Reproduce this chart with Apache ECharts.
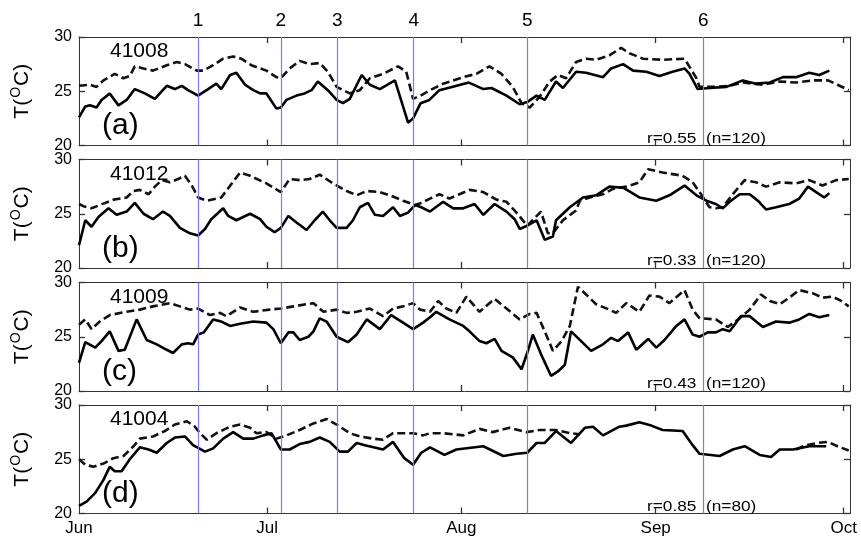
<!DOCTYPE html>
<html>
<head>
<meta charset="utf-8">
<script src="https://cdn.jsdelivr.net/npm/echarts@6/dist/echarts.min.js"></script>
<style>html,body{margin:0;padding:0;background:#fff}#c{width:861px;height:545px}</style>
</head>
<body>
<div id="c"></div>
<script>
// ---- data (x = days since 1 June) ----
const monthLabels = ['Jun', 'Jul', 'Aug', 'Sep', 'Oct'];
const monthDays = [0, 30, 61, 92, 122];
const yTicks = [20, 25, 30];
const eventDays = [19.0, 32.2, 41.2, 53.4, 71.5, 99.6];
const eventLabels = ['1', '2', '3', '4', '5', '6'];
const stations = ['41008', '41012', '41009', '41004'];
const panelLetters = ['(a)', '(b)', '(c)', '(d)'];
const corrTexts = ['r=0.55  (n=120)', 'r=0.33  (n=120)', 'r=0.43  (n=120)', 'r=0.85  (n=80)'];

const s41008Solid = [[0,22.6],[1,23.6],[1.75,23.7],[2.8,23.5],[3.6,24.2],[4.9,24.8],[6.3,23.7],[7.6,24.2],[8.9,25.2],[10.5,24.8],[12.1,24.3],[14.0,25.5],[15.3,25.2],[16.4,25.5],[17.4,25.1],[19.0,24.6],[20.6,25.2],[21.9,25.7],[22.7,25.2],[24.1,26.5],[25.1,26.7],[26.5,25.6],[27.8,25.1],[28.9,24.8],[29.9,24.8],[31.5,23.4],[32.2,23.5],[33.1,24.2],[34.7,24.6],[36.0,24.8],[37.1,25.1],[38.1,25.9],[39.7,25.1],[41.1,24.2],[42.1,23.9],[43.2,24.3],[45.1,26.5],[46.4,25.6],[48.0,25.2],[50.4,26.0],[52.5,22.1],[53.3,22.5],[54.5,23.9],[55.9,24.2],[57.5,25.1],[59.5,25.4],[62.2,25.8],[64.5,25.2],[65.8,25.3],[68.2,24.6],[70.3,23.8],[71.5,24.0],[73.0,24.6],[74.3,24.2],[76.1,25.9],[77.2,25.3],[79.3,26.8],[80.9,26.7],[83.6,26.3],[84.9,27.1],[86.8,27.5],[88.4,26.9],[90.5,26.8],[92.6,26.4],[94.7,26.8],[96.6,27.1],[97.4,26.6],[98.7,25.2],[100.6,25.3],[103.3,25.4],[105.9,26.0],[108.0,25.7],[110.2,25.8],[112.3,26.3],[114.4,26.3],[116.5,26.7],[118.1,26.5],[119.7,26.9]];
const s41008Dashed = [[0,25.5],[1.75,25.6],[2.8,25.4],[3.9,26.0],[5.7,26.6],[7.1,26.2],[8.1,26.4],[8.9,27.3],[10.3,27.1],[11.8,26.9],[14.0,27.4],[15.6,27.7],[16.9,27.5],[18.8,26.9],[19.8,26.9],[21.4,27.4],[23.0,28.0],[24.6,28.2],[25.9,28.0],[27.5,27.4],[29.9,26.9],[31.5,26.3],[32.2,26.2],[33.6,27.1],[35.2,27.8],[36.8,27.5],[38.4,27.6],[39.7,26.8],[41.1,25.4],[43.2,24.8],[44.8,25.1],[46.4,26.2],[48.5,26.6],[50.9,27.3],[52.2,26.8],[53.3,24.3],[54.5,24.6],[56.0,25.1],[58.1,25.7],[61.3,26.3],[63.4,26.6],[65.5,27.3],[67.4,26.6],[69.2,25.4],[70.6,23.9],[71.9,23.5],[73.5,24.5],[75.1,25.9],[76.4,26.5],[77.7,26.2],[79.3,27.7],[80.9,28.0],[82.5,27.9],[84.6,28.3],[86.5,29.0],[87.8,28.5],[90.0,28.0],[93.1,27.9],[96.6,28.0],[98.5,26.2],[99.0,25.4],[101.1,25.4],[103.8,25.5],[105.9,25.8],[109.1,25.6],[111.8,25.9],[114.4,25.8],[117.1,26.0],[119.5,26.0],[121.0,25.6],[122.8,25.1]];

const s41012Solid = [[0,22.1],[1.0,24.4],[2.0,23.8],[3.1,24.7],[4.7,25.5],[6.0,24.9],[7.6,25.2],[8.9,26.0],[10.3,25.0],[11.8,24.5],[13.4,25.2],[14.5,24.8],[16.1,23.7],[17.7,23.2],[19.0,23.0],[20.1,23.6],[21.1,24.5],[23.0,25.5],[23.8,24.8],[25.1,24.4],[27.3,25.0],[28.9,24.5],[29.9,23.8],[31.2,23.3],[32.2,23.7],[33.4,24.8],[34.7,24.2],[36.3,23.5],[37.6,24.4],[38.9,25.2],[40.0,24.4],[41.1,23.7],[42.7,23.7],[43.7,24.4],[44.8,25.6],[46.1,26.0],[47.2,24.9],[48.5,24.8],[50.1,25.6],[51.2,24.8],[52.5,25.1],[53.6,25.8],[54.6,25.6],[56.0,25.2],[58.1,26.1],[59.7,25.5],[61.3,25.5],[63.1,25.9],[64.5,24.9],[66.3,25.9],[68.2,25.2],[69.5,24.5],[70.3,23.6],[71.5,23.9],[73.0,24.4],[74.3,22.6],[75.6,22.9],[76.1,24.4],[78.3,25.6],[80.4,26.5],[82.5,26.7],[84.6,27.5],[86.8,27.4],[89.4,26.5],[92.1,26.2],[94.2,26.7],[96.6,27.6],[98.5,26.7],[100.1,26.2],[101.6,25.9],[102.7,25.5],[103.8,26.1],[105.4,26.8],[107.0,26.8],[108.3,26.2],[109.6,25.4],[111.2,25.6],[113.3,25.9],[114.9,26.4],[116.3,27.5],[117.6,27.0],[118.9,26.5],[119.7,26.9]];
const s41012Dashed = [[0,25.9],[0.7,25.7],[2.0,25.5],[3.3,25.8],[5.5,26.3],[7.6,26.5],[8.7,27.1],[9.7,27.2],[11.1,26.8],[12.1,27.5],[13.2,28.1],[14.5,27.9],[15.8,28.2],[16.9,28.5],[18.0,27.6],[19.0,26.5],[20.4,26.2],[22.7,26.5],[25.7,28.8],[27.3,28.5],[29.9,27.8],[32.2,27.0],[33.6,28.2],[35.2,28.1],[36.8,28.2],[38.4,28.6],[40.5,27.8],[42.7,27.1],[44.3,26.7],[45.9,27.1],[48.0,27.0],[49.6,26.7],[51.7,26.2],[53.6,25.8],[54.6,26.0],[56.0,26.4],[57.5,26.8],[59.1,26.4],[60.7,26.8],[62.3,27.2],[64.5,27.0],[66.6,26.3],[68.2,26.1],[69.8,25.1],[71.5,23.9],[73.7,25.2],[74.8,23.2],[75.6,23.2],[77.2,24.4],[79.3,25.3],[79.9,26.2],[81.5,26.5],[83.6,26.8],[85.2,27.3],[87.3,27.5],[89.4,27.9],[90.8,29.1],[93.1,28.8],[96.3,28.5],[97.9,27.9],[99.0,27.0],[100.6,25.6],[101.6,25.5],[102.7,25.6],[104.3,26.8],[106.2,28.1],[108.0,27.9],[109.6,27.5],[111.8,27.9],[114.4,27.8],[116.5,28.1],[118.6,27.6],[120.8,28.1],[122.8,28.2]];

const s41009Solid = [[0,22.6],[1.0,24.5],[2.6,24.0],[3.6,24.6],[4.9,25.5],[6.3,23.7],[7.3,23.8],[9.2,26.6],[10.8,24.7],[12.4,24.3],[14.0,23.8],[15.0,23.5],[16.4,24.3],[17.4,24.4],[18.2,24.3],[19.0,25.2],[19.9,25.4],[21.4,26.6],[22.7,26.4],[24.1,26.0],[25.7,26.2],[27.8,26.4],[29.9,26.3],[31.0,25.7],[32.2,24.4],[33.4,25.4],[34.2,25.4],[35.2,24.7],[36.6,25.0],[37.4,25.5],[38.4,26.7],[39.5,26.4],[41.1,25.0],[42.9,24.5],[44.3,25.2],[45.9,26.6],[48.0,25.7],[49.8,27.0],[51.7,26.3],[53.3,25.7],[54.9,26.3],[56.0,26.8],[57.0,27.3],[59.1,26.6],[61.3,26.0],[62.3,25.5],[63.9,24.6],[65.0,24.4],[66.3,24.8],[67.4,23.7],[69.2,23.1],[70.6,22.0],[71.5,23.5],[72.4,25.2],[73.7,23.4],[75.3,21.4],[76.4,21.8],[77.5,22.4],[78.5,25.5],[80.1,24.6],[81.7,23.7],[83.6,24.3],[84.9,24.9],[86.0,24.6],[87.6,25.4],[88.9,23.8],[90.8,24.8],[92.1,24.0],[93.4,24.7],[95.3,26.0],[96.6,26.6],[97.9,25.2],[99.0,25.0],[100.3,25.4],[101.6,25.4],[102.7,25.7],[103.8,25.5],[105.6,26.9],[107.0,26.9],[109.1,25.9],[111.2,26.4],[113.3,26.3],[114.9,26.6],[116.5,27.1],[118.1,26.8],[119.7,27.0]];
const s41009Dashed = [[0,26.1],[1.0,26.6],[2.0,25.7],[3.3,26.4],[4.9,27.0],[7.6,27.3],[9.7,27.5],[11.8,27.8],[14.5,28.1],[16.1,27.8],[17.7,27.5],[19.0,27.6],[20.9,27.0],[22.5,27.2],[23.5,26.9],[25.7,27.7],[27.8,27.3],[30.4,27.5],[32.2,27.6],[34.2,27.8],[37.4,28.1],[39.0,27.3],[41.1,27.5],[42.7,27.2],[44.3,27.3],[46.4,27.6],[48.5,26.9],[50.1,27.6],[51.7,27.8],[53.3,28.1],[54.4,27.5],[56.0,27.3],[57.3,28.3],[58.6,27.6],[60.2,27.2],[61.8,28.7],[63.9,27.3],[66.3,28.5],[68.2,27.6],[70.3,26.6],[71.9,27.1],[73.0,27.2],[74.3,25.5],[75.6,23.7],[77.0,24.6],[78.3,26.0],[79.6,29.6],[80.9,28.9],[82.5,28.0],[84.6,27.5],[85.7,27.2],[87.3,28.1],[89.4,27.3],[91.0,28.8],[92.6,28.7],[94.2,28.1],[96.6,29.3],[97.9,27.5],[99.0,26.7],[101.6,26.6],[103.5,25.9],[105.4,26.7],[107.0,27.5],[108.8,28.9],[110.2,28.3],[111.8,28.0],[113.3,28.6],[114.9,29.3],[117.1,29.0],[118.6,28.6],[120.2,28.7],[121.6,28.3],[122.8,27.8]];

const s41004Solid = [[0,20.7],[1.2,21.1],[2.6,21.9],[3.9,23.1],[4.9,24.3],[5.7,23.9],[6.8,23.9],[8.1,25.0],[9.7,26.1],[11.1,25.9],[12.4,25.6],[14.0,26.5],[15.3,27.0],[16.9,27.1],[18.2,26.3],[20.1,25.7],[21.4,26.0],[23.0,26.9],[24.6,27.5],[26.2,26.9],[27.8,26.9],[29.4,27.2],[30.7,27.4],[32.2,25.9],[33.6,25.9],[35.2,26.4],[36.8,26.6],[38.4,27.0],[40.0,26.6],[41.6,25.7],[42.9,25.7],[44.3,26.5],[45.6,26.3],[48.5,25.9],[50.1,26.6],[51.9,25.1],[53.3,24.5],[54.6,25.6],[56.0,26.1],[58.3,25.4],[60.2,25.9],[64.5,26.2],[67.7,25.3],[69.8,25.5],[71.5,25.6],[73.0,26.5],[74.3,26.5],[76.1,27.6],[78.5,26.5],[80.7,27.9],[82.0,28.0],[83.6,27.2],[86.2,28.0],[87.3,28.1],[89.4,28.4],[91.3,28.1],[93.1,27.7],[96.3,27.6],[97.9,26.3],[99.0,25.5],[102.2,25.3],[104.3,25.9],[106.2,26.2],[108.6,25.4],[110.4,25.2],[111.8,25.9],[113.9,25.9],[116.5,26.2],[119.2,26.2]];
const s41004Dashed = [[0,25.0],[1.0,24.5],[2.3,24.3],[3.9,24.6],[5.5,25.1],[7.1,25.3],[8.7,26.2],[9.7,26.9],[11.8,27.1],[13.7,27.6],[15.3,28.2],[17.2,28.5],[18.5,28.0],[19.3,27.4],[20.4,26.8],[21.9,27.4],[24.1,28.0],[25.7,28.2],[27.3,27.9],[28.3,27.4],[29.9,27.5],[31.5,26.9],[33.1,27.2],[35.2,27.7],[37.4,28.3],[39.5,28.7],[41.1,28.2],[43.2,27.4],[44.8,27.1],[46.9,26.9],[48.5,26.8],[50.1,27.4],[51.7,27.4],[53.3,27.4],[54.9,27.2],[56.0,27.4],[58.1,27.4],[61.3,27.2],[63.9,27.8],[66.0,27.5],[68.7,27.9],[71.4,27.5],[73.5,27.7],[76.1,27.7],[78.3,27.4],[79.9,27.3],[80.5,'-'],[114.4,25.9],[116.0,26.3],[117.8,26.5],[119.5,26.6],[121.0,26.2],[122.8,25.8]];

const solidSeries = [s41008Solid, s41012Solid, s41009Solid, s41004Solid];
const dashedSeries = [s41008Dashed, s41012Dashed, s41009Dashed, s41004Dashed];

// ---- layout ----
const FONT = 'Liberation Sans, Arial, Helvetica, sans-serif';
const gridLeft = 79, gridWidth = 772, gridHeight = 108.5;
const gridTops = [37, 159.5, 282.5, 405];
const boxColor = '#333';
const eventColor = '#7a7af2';

function tick(custom) {
  const t = { show: true, inside: true, length: 6, lineStyle: { color: boxColor, width: 1.3 } };
  if (custom) t.customValues = custom.slice();
  return t;
}
function line() {
  return { show: true, onZero: false, lineStyle: { color: boxColor, width: 1 } };
}

const grids = [], xAxes = [], yAxes = [], series = [], graphics = [];
gridTops.forEach((top, i) => {
  grids.push({ left: gridLeft, top: top, width: gridWidth, height: gridHeight });
  const isBottom = i === gridTops.length - 1;
  xAxes.push({
    type: 'value', gridIndex: i, min: 0, max: 123, position: 'bottom',
    splitLine: { show: false }, axisLine: line(), axisTick: tick(monthDays.slice(1)),
    axisLabel: {
      show: true, customValues: isBottom ? monthDays.slice() : monthDays.slice(1), fontFamily: FONT, fontSize: 17,
      color: isBottom ? '#000' : 'rgba(0,0,0,0)', margin: 6,
      formatter: v => isBottom ? (monthLabels[monthDays.indexOf(Math.round(v))] || '') : ''
    }
  });
  xAxes.push({
    type: 'value', gridIndex: i, min: 0, max: 123, position: 'top',
    splitLine: { show: false }, axisLine: line(), axisTick: tick(monthDays.slice(1)),
    axisLabel: { show: true, customValues: monthDays.slice(1), color: 'rgba(0,0,0,0)', formatter: () => '' }
  });
  yAxes.push({
    type: 'value', gridIndex: i, min: yTicks[0], max: yTicks[yTicks.length - 1], interval: 5, position: 'left',
    splitLine: { show: false }, axisLine: line(), axisTick: tick(),
    axisLabel: { show: true, fontFamily: FONT, fontSize: 16, color: '#000', margin: 7 },
    name: '{a|T(}{s|O}{a|C)}', nameLocation: 'middle', nameRotate: 90, nameGap: 44,
    nameTextStyle: {
      rich: {
        a: { fontFamily: FONT, fontSize: 21, color: '#000' },
        s: { fontFamily: FONT, fontSize: 14, color: '#000', padding: [0, 1, 12, 1] }
      }
    }
  });
  yAxes.push({
    type: 'value', gridIndex: i, min: yTicks[0], max: yTicks[yTicks.length - 1], interval: 5, position: 'right',
    splitLine: { show: false }, axisLine: line(), axisTick: tick(),
    axisLabel: { show: true, color: 'rgba(0,0,0,0)', formatter: () => '' }
  });

  series.push({
    type: 'line', xAxisIndex: 2 * i, yAxisIndex: 2 * i, data: dashedSeries[i],
    showSymbol: false, symbol: 'none', connectNulls: false, z: 3,
    lineStyle: { color: '#111', width: 2.6, type: [8, 4] }
  });
  series.push({
    type: 'line', xAxisIndex: 2 * i, yAxisIndex: 2 * i, data: solidSeries[i],
    showSymbol: false, symbol: 'none', z: 4,
    lineStyle: { color: '#000', width: 2.6 },
    markLine: {
      silent: true, symbol: 'none', animation: false,
      lineStyle: { color: eventColor, width: 1.2, type: 'solid' },
      label: i === 0 ? {
        show: true, position: 'end', distance: 7, fontFamily: FONT, fontSize: 19, color: '#000',
        formatter: p => eventLabels[eventDays.indexOf(p.value)]
      } : { show: false },
      data: eventDays.map(d => ({ xAxis: d }))
    }
  });

  graphics.push({
    type: 'text', left: 110, top: top + 4, z: 10,
    style: { text: stations[i], fontFamily: FONT, fontSize: 21, fill: '#000' }
  });
  graphics.push({
    type: 'text', left: 102, top: top + 74, z: 10,
    style: { text: panelLetters[i], fontFamily: FONT, fontSize: 30, fill: '#000' }
  });
  graphics.push({
    type: 'text', x: 647, y: top + 94, z: 10, scaleX: 1.15,
    style: { text: corrTexts[i], fontFamily: FONT, fontSize: 15, fill: '#000' }
  });
});

const chart = echarts.init(document.getElementById('c'), null, { renderer: 'canvas' });
chart.setOption({
  animation: false,
  backgroundColor: '#fff',
  grid: grids,
  xAxis: xAxes,
  yAxis: yAxes,
  series: series,
  graphic: graphics
});
</script>
</body>
</html>
